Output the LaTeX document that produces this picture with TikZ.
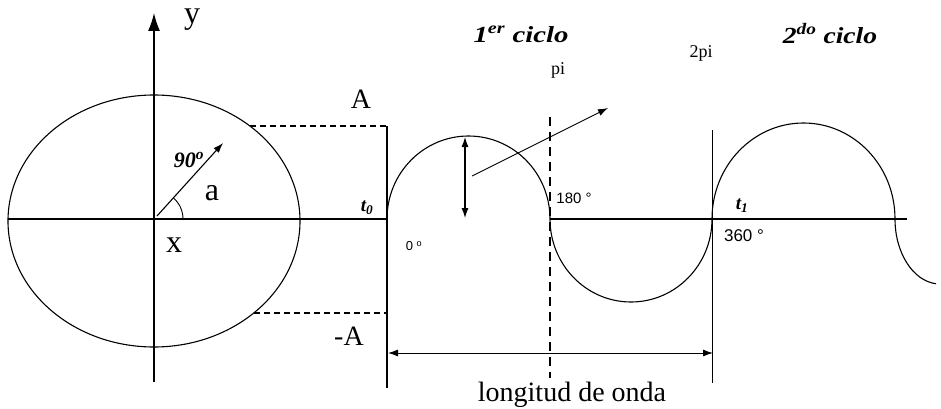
\documentclass[tikz,border=0pt]{standalone}
\usepackage{fontspec}
\usepackage{graphicx}
\setmainfont{Liberation Serif}
\newfontfamily\degfont{Liberation Sans}
\usetikzlibrary{arrows.meta}
\begin{document}
\begin{tikzpicture}[x=1pt,y=-1pt,
  curve/.style={line width=1.1pt},
  axisline/.style={line width=1.3pt},
  thinline/.style={line width=0.9pt},
  dashline/.style={line width=2.2pt, dash pattern=on 6pt off 4pt},
  dashvert/.style={line width=2.2pt, dash pattern=on 9pt off 6pt},
  tipend/.style={-{Latex[length=10pt,width=7pt]}},
  tipboth/.style={{Latex[length=10pt,width=7pt]}-{Latex[length=10pt,width=7pt]}},
  bigletter/.style={inner sep=0pt, font=\fontsize{32}{36}\selectfont},
  amplabel/.style={inner sep=0pt, font=\fontsize{28}{32}\selectfont},
  title/.style={inner sep=0pt, font=\fontsize{23}{26}\selectfont\bfseries\itshape},
  tlabel/.style={inner sep=0pt, font=\fontsize{19}{22}\selectfont\bfseries\itshape},
  deglabel/.style={inner sep=0pt, font=\fontsize{15}{18}\degfont},
  pilabel/.style={inner sep=0pt, font=\fontsize{18}{20}\selectfont},
]
\useasboundingbox (0,0) rectangle (941,409);

% coordinates
\coordinate (O) at (154,219);
\coordinate (Ytop) at (154,13);
\coordinate (Ybot) at (154,382);
\coordinate (Xl) at (8,219);
\coordinate (T0) at (387,219);
\coordinate (P1) at (550,219);
\coordinate (Xr) at (907,219);
\coordinate (Aell) at (250,126);
\coordinate (Aend) at (387,126);
\coordinate (Bell) at (254,313);
\coordinate (Bend) at (387,313);
\coordinate (V0bot) at (387,388);
\coordinate (V2top) at (712,130);
\coordinate (V2bot) at (712,383);
\coordinate (Dtop) at (550,117);
\coordinate (Dbot) at (550,378);
\coordinate (R1) at (157,216);
\coordinate (R2) at (223,143);
\coordinate (AmpT) at (465,137);
\coordinate (AmpB) at (465,218);
\coordinate (S1) at (472,176);
\coordinate (S2) at (608,108);
\coordinate (L1) at (388,353);
\coordinate (L2) at (713,353);
\coordinate (ArcS) at (183,219);

% circle
\draw[curve] (154,221) ellipse [x radius=146, y radius=126];

% axes
\draw[axisline,-{Latex[length=18pt,width=12pt]}] (Ybot) -- (Ytop);
\draw[axisline] (Xl) -- (T0);
\draw[axisline] (P1) -- (Xr);

% amplitude projections
\draw[dashline] (Aell) -- (Aend);
\draw[dashline] (Bell) -- (Bend);
\draw[axisline] (Aend) -- (V0bot);
\draw[thinline] (V2top) -- (V2bot);
\draw[dashvert] (Dtop) -- (Dbot);

% rotating vector and angle
\draw[curve,tipend] (R1) -- (R2);
\draw[thinline] (ArcS) arc[start angle=0,end angle=-48,radius=28];

% wave
\draw[curve] (T0) arc[start angle=180,end angle=360,x radius=81.5,y radius=83]
  arc[start angle=180,end angle=0,x radius=81,y radius=83]
  arc[start angle=180,end angle=360,x radius=91.5,y radius=96]
  arc[start angle=180,end angle=95,x radius=45,y radius=65];

% arrows on wave
\draw[curve,tipboth] (AmpT) -- (AmpB);
\draw[thinline,tipend] (S1) -- (S2);
\draw[thinline,tipboth] (L1) -- (L2);

% labels
\node[bigletter] (ylab) at (192,20) {y};
\node[bigletter] (alab) at (212,193) {a};
\node[bigletter] (xlab) at (174,245) {x};
\node[inner sep=0pt, font=\fontsize{22}{24}\selectfont\bfseries\itshape] (nin) at (189,160) {90\textsuperscript{o}};
\node[amplabel] (Alab) at (361,99) {A};
\node[amplabel] (mAlab) at (349,336) {-A};
\node[tlabel] (t0lab) at (367,208) {t\textsubscript{0}};
\node[tlabel] (t1lab) at (742,206) {t\textsubscript{1}};
\node[deglabel, font=\fontsize{13}{15}\degfont] (d0) at (414,246) {0 \textsuperscript{o}};
\node[deglabel] (d180) at (574,198) {180 °};
\node[deglabel,font=\fontsize{17}{20}\degfont] (d360) at (744,236) {360 °};
\node[pilabel] (pilab) at (558,70) {pi};
\node[pilabel] (twopilab) at (701,53) {2pi};
\node[title] (c1) at (521,34) {\scalebox{1.25}[1]{1\textsuperscript{er} ciclo}};
\node[title] (c2) at (830,34) {\scalebox{1.2}[1]{2\textsuperscript{do} ciclo}};
\node[inner sep=0pt, font=\fontsize{28}{32}\selectfont] (lon) at (572,395) {longitud de onda};
\end{tikzpicture}
\end{document}
